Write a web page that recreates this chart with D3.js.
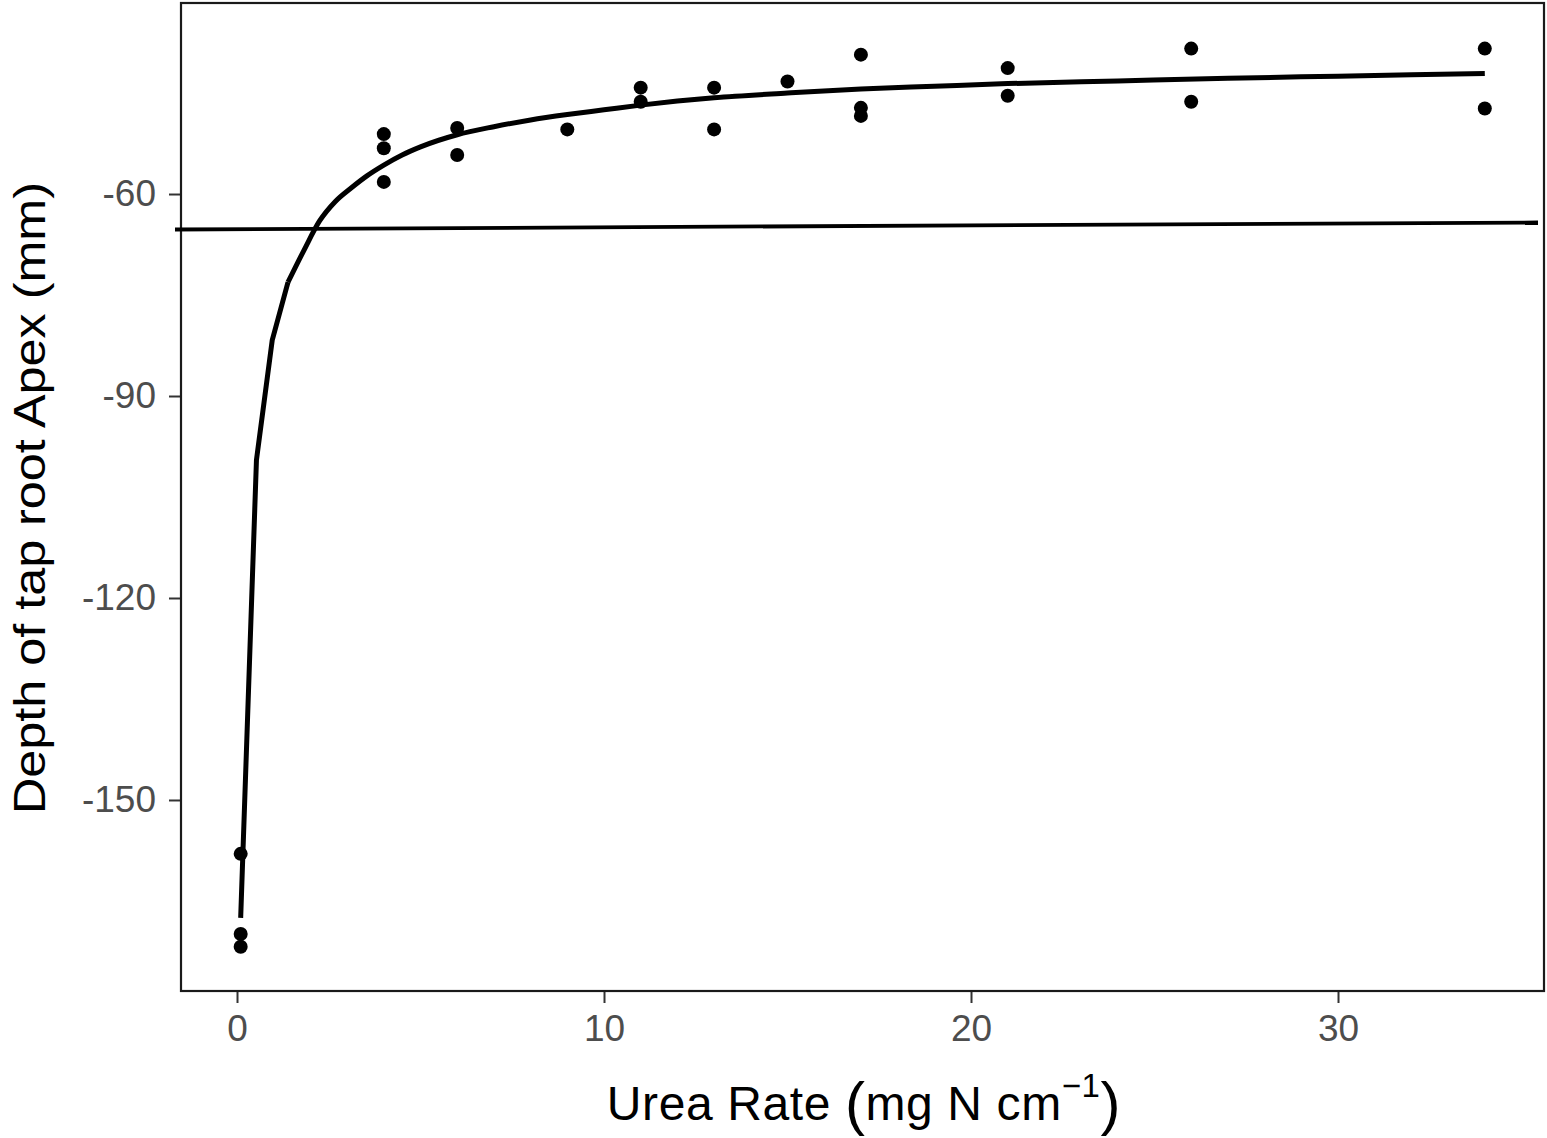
<!DOCTYPE html>
<html>
<head>
<meta charset="utf-8">
<script src="https://cdn.jsdelivr.net/npm/d3@7"></script>
<style>
  html, body { margin: 0; padding: 0; background: #fff; }
  svg { display: block; }
</style>
</head>
<body>
<svg id="chart" width="1547" height="1138"></svg>
<script>
// Observed data
const rateX = [0.1, 0.1, 0.1, 4, 4, 4, 6, 6, 9, 11, 11, 13, 13, 15, 17, 17, 17, 21, 21, 26, 26, 34, 34];
const depthY = [-158.0, -169.9, -171.8, -51.1, -53.2, -58.2, -50.2, -54.2, -50.4, -44.2, -46.3, -44.2, -50.4, -43.3, -39.3, -47.2, -48.4, -41.3, -45.4, -38.4, -46.3, -38.4, -47.3];

// Fitted curve
const fitX = [0.1, 0.53, 0.96, 1.39, 1.82, 2.25, 2.68, 3.11, 3.54, 4.0, 4.5, 5, 6, 7, 8, 9, 10, 11, 12, 13, 15, 17, 19, 21, 24, 27, 30, 34];
const fitY = [-167.5, -99.5, -81.7, -73.1, -68.4, -64.0, -61.1, -59.1, -57.3, -55.7, -54.2, -53.0, -51.2, -50.0, -49.0, -48.2, -47.5, -46.8, -46.2, -45.7, -45.0, -44.4, -44.0, -43.6, -43.2, -42.8, -42.5, -42.1];

// Reference line
const refX = [-1.69, 35.45];
const refY = [-65.27, -64.23];

// Ticks
const xTicks = [0, 10, 20, 30];
const yTicks = [-60, -90, -120, -150];

const svg = d3.select("#chart");
const FONT = "'Liberation Sans', Arial, Helvetica, sans-serif";

const panel = { left: 181, right: 1544, top: 3, bottom: 991 };

const x = d3.scaleLinear().domain([-1.526, 35.613]).range([panel.left, panel.right]);
const y = d3.scaleLinear().domain([-178.37, -31.63]).range([panel.bottom, panel.top]);

svg.append("rect").attr("x", 0).attr("y", 0).attr("width", 1547).attr("height", 1138).attr("fill", "#fff");

// Axes
const xAxis = svg.append("g")
  .attr("transform", `translate(0,${panel.bottom})`)
  .call(d3.axisBottom(x).tickValues(xTicks).tickSize(12).tickPadding(12).tickFormat(d3.format("d")));
const yAxis = svg.append("g")
  .attr("transform", `translate(${panel.left},0)`)
  .call(d3.axisLeft(y).tickValues(yTicks).tickSize(12).tickPadding(13).tickFormat(d => String(d).replace("\u2212", "-")));

[xAxis, yAxis].forEach(g => {
  g.select(".domain").remove();
  g.selectAll(".tick line").attr("stroke", "#333").attr("stroke-width", 2);
  g.selectAll(".tick text").attr("fill", "#4d4d4d").attr("font-size", 37).attr("font-family", FONT);
});
xAxis.selectAll(".tick text").attr("dy", "0.71em");

// Panel border
svg.append("rect")
  .attr("x", panel.left).attr("y", panel.top)
  .attr("width", panel.right - panel.left).attr("height", panel.bottom - panel.top)
  .attr("fill", "none").attr("stroke", "#1a1a1a").attr("stroke-width", 2.2);

// Reference line
svg.append("line")
  .attr("x1", x(refX[0])).attr("y1", y(refY[0]))
  .attr("x2", x(refX[1])).attr("y2", y(refY[1]))
  .attr("stroke", "#000").attr("stroke-width", 3.8);

// Points
svg.append("g").selectAll("circle")
  .data(rateX.map((v, i) => [v, depthY[i]]))
  .join("circle")
  .attr("cx", d => x(d[0])).attr("cy", d => y(d[1]))
  .attr("r", 7).attr("fill", "#000");

// Fitted curve: steep start drawn straight, the rest smoothed
const fitPts = fitX.map((v, i) => [v, fitY[i]]);
const lineLin = d3.line().x(d => x(d[0])).y(d => y(d[1])).curve(d3.curveLinear);
const lineSmooth = d3.line().x(d => x(d[0])).y(d => y(d[1])).curve(d3.curveMonotoneX);
svg.append("path")
  .datum(fitPts.slice(0, 4))
  .attr("d", lineLin)
  .attr("fill", "none").attr("stroke", "#000").attr("stroke-width", 5)
  .attr("stroke-linejoin", "round");
svg.append("path")
  .datum(fitPts.slice(3))
  .attr("d", lineSmooth)
  .attr("fill", "none").attr("stroke", "#000").attr("stroke-width", 5)
  .attr("stroke-linejoin", "round");

// Axis titles
svg.append("text")
  .attr("transform", "translate(45,498) rotate(-90)")
  .attr("text-anchor", "middle")
  .attr("font-family", FONT).attr("font-size", 45).attr("fill", "#000")
  .attr("textLength", 632).attr("lengthAdjust", "spacingAndGlyphs")
  .text("Depth of tap root Apex (mm)");

const xt = svg.append("text")
  .attr("x", 864).attr("y", 1120)
  .attr("text-anchor", "middle")
  .attr("font-family", FONT).attr("font-size", 48).attr("letter-spacing", 0.6).attr("fill", "#000");
xt.append("tspan").text("Urea Rate ");
xt.append("tspan").attr("font-size", 60).attr("dy", 4).text("(");
xt.append("tspan").attr("dy", -4).text("mg N cm");
xt.append("tspan").attr("font-size", 33).attr("dy", -23).text("\u22121");
xt.append("tspan").attr("font-size", 60).attr("dy", 27).text(")");
</script>
</body>
</html>
